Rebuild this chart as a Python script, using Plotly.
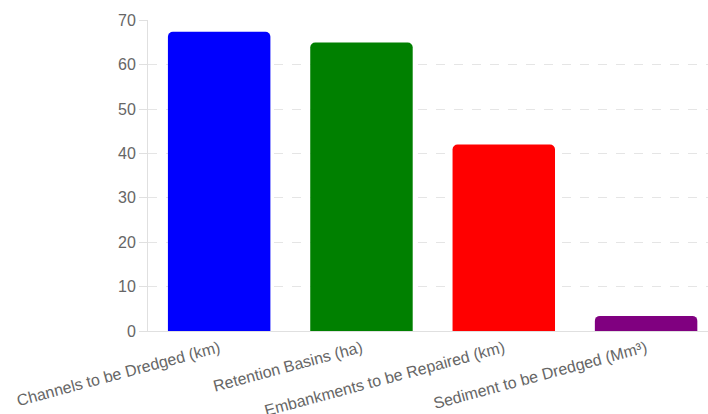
import plotly.graph_objects as go

categories = ["Channels to be Dredged (km)", "Retention Basins (ha)",
              "Embankments to be Repaired (km)", "Sediment to be Dredged (Mm³)"]
values = [67.4, 65, 42, 3.4]
colors = ["blue", "green", "red", "purple"]
y_ticks = [0, 10, 20, 30, 40, 50, 60, 70]

fig = go.Figure(go.Bar(x=categories, y=values, marker=dict(color=colors, line=dict(width=0)),
                       width=0.72))

fig.update_layout(
    width=708, height=414,
    margin=dict(l=148, r=0, t=20, b=83),
    paper_bgcolor="white", plot_bgcolor="white",
    barcornerradius=5,
    showlegend=False,
    font=dict(family="Liberation Sans, Arial, sans-serif", color="#666666", size=16),
)
fig.update_xaxes(
    range=[-0.5, 3.435], tickangle=-15, showgrid=False, automargin=False,
    showline=True, linecolor="#e0e0e0", linewidth=1,
    ticks="", ticklabelstandoff=1, tickfont=dict(size=16, color="#666666"),
)
fig.update_yaxes(
    range=[0, 70.05], tickvals=y_ticks, showgrid=True, gridcolor="#e5e5e5", griddash="dash",
    showline=True, linecolor="#e0e0e0", linewidth=1, zeroline=False, automargin=False,
    ticks="outside", ticklen=8, tickcolor="#e0e0e0",
    tickfont=dict(size=16, color="#666666"),
)

fig.write_html("out.html")
